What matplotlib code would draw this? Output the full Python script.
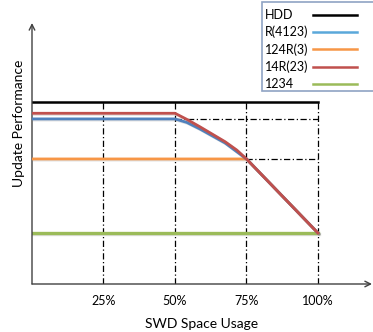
import matplotlib
matplotlib.use("Agg")
import matplotlib.pyplot as plt
from matplotlib.lines import Line2D
from matplotlib.patches import Rectangle
import matplotlib.patheffects as pe

plt.rcParams['font.family'] = ['Lato', 'DejaVu Sans']

# series (x in % of SWD space, y relative to HDD = 100)
labels = ["HDD", "R(4123)", "124R(3)", "14R(23)", "1234"]
hdd_x = [0, 100]
hdd_y = [100, 100]
r4123_x = [0, 50, 54.1, 58.7, 67.5, 71.6, 75, 100]
r4123_y = [90.7, 90.7, 88.8, 85.2, 77.5, 72.7, 68.7, 28]
r124_x = [0, 75, 100]
r124_y = [68.7, 68.7, 28]
r14_x = [0, 50, 54.1, 58.7, 67.5, 71.6, 75, 100]
r14_y = [93.8, 93.8, 90.5, 86.4, 78.2, 73.6, 68.7, 28]
r1234_x = [0, 100]
r1234_y = [28, 28]

tick_pos = [25, 50, 75, 100]
tick_lbl = ["25%", "50%", "75%", "100%"]

line_cols = ["black", "#4F81BD", "#F79646", "#C0504D", "#9BBB59"]
legend_cols = ["black", "#5AA8DA", "#F79646", "#C0504D", "#9BBB59"]

fig = plt.figure(figsize=(3.73, 3.32), dpi=100)
ax = fig.add_axes([32 / 373, 48 / 332, 340 / 373, 261 / 332])
ax.set_xlim(0, 118.9)
ax.set_ylim(0, 143.4)
for s in ax.spines.values():
    s.set_visible(False)

# dash-dot guide lines
grid_kw = dict(color="black", lw=0.9, ls=(0, (5, 2, 1, 2)), zorder=1)
for t in tick_pos:
    ax.plot([t, t], [0, hdd_y[0]], **grid_kw)
ax.plot([50, 100], [r4123_y[0]] * 2, **grid_kw)
ax.plot([75, 100], [r124_y[0]] * 2, **grid_kw)

shadow = [pe.SimpleLineShadow(offset=(0.8, -0.8), alpha=0.25, shadow_color="gray"), pe.Normal()]
ax.plot(hdd_x, hdd_y, color=line_cols[0], lw=1.8, zorder=3)
ax.plot(r1234_x, r1234_y, color=line_cols[4], lw=2.4, zorder=3, path_effects=shadow)
ax.plot(r124_x, r124_y, color=line_cols[2], lw=2.0, zorder=4, path_effects=shadow)
ax.plot(r4123_x, r4123_y, color=line_cols[1], lw=2.0, zorder=5, path_effects=shadow)
ax.plot(r14_x, r14_y, color=line_cols[3], lw=2.0, zorder=6, path_effects=shadow)

# axes with arrow heads
arr = dict(arrowstyle="->", color="#404040", lw=1.0, shrinkA=0, shrinkB=0, mutation_scale=10)
ax.annotate("", xy=(118.9, 0), xytext=(0, 0), arrowprops=arr, annotation_clip=False)
ax.annotate("", xy=(0, 143.4), xytext=(0, 0), arrowprops=arr, annotation_clip=False)

ax.set_xticks(tick_pos, tick_lbl)
ax.tick_params(axis="x", length=0, pad=8, labelsize=9)
ax.set_yticks([])
ax.set_xlabel("SWD Space Usage", fontsize=10, labelpad=8)
ax.set_ylabel("Update Performance", fontsize=10)
ax.yaxis.set_label_coords(-0.02, 0.617)

# legend box drawn by hand so labels and lines line up as in the original
fig.patches.append(Rectangle((262 / 373, 1 - 91 / 332), 120 / 373, 89 / 332,
                             transform=fig.transFigure, fill=True, fc="white",
                             ec="#8FA3C4", lw=1.2))
for i, (lab, c) in enumerate(zip(labels, legend_cols)):
    yy = 1 - (15 + i * 17.2) / 332
    fig.text(265 / 373, yy, lab, fontsize=9, va="center", ha="left")
    fig.add_artist(Line2D([313 / 373, 357 / 373], [yy, yy], color=c, lw=1.8,
                          transform=fig.transFigure))

fig.savefig("out.png", dpi=100)
